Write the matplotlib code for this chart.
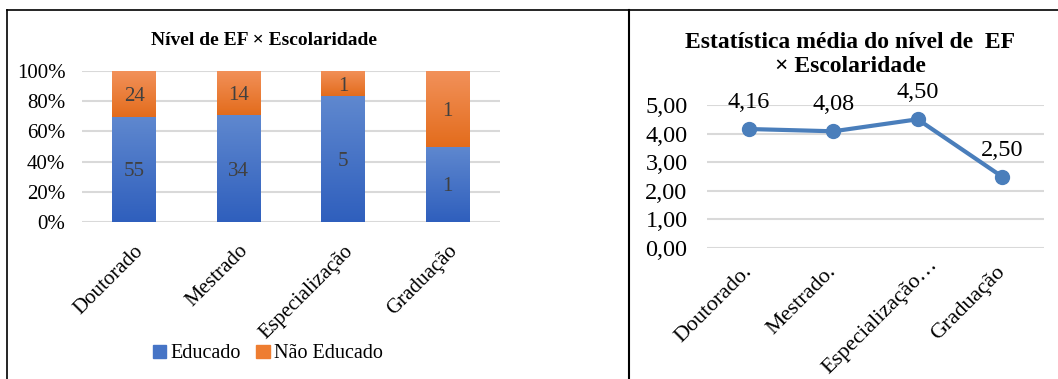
import numpy as np
import matplotlib.pyplot as plt
import matplotlib.transforms as mtransforms
from matplotlib.lines import Line2D
from matplotlib.patches import Patch
from matplotlib.colors import LinearSegmentedColormap

plt.rcParams['font.family'] = ['Liberation Serif', 'DejaVu Serif']

# dados
niveis = ['Doutorado', 'Mestrado', 'Especialização', 'Graduação']
educado = [55, 34, 5, 1]
nao_educado = [24, 14, 1, 1]

niveis_media = ['Doutorado.', 'Mestrado.', 'Especialização…', 'Graduação']
media = [4.16, 4.08, 4.50, 2.50]

azul = '#4674c6'
laranja = '#ee7d31'
linha_azul = '#4a7ebb'
grade = '#d9d9d9'
cm_azul = LinearSegmentedColormap.from_list('az', ['#2f5fbd', '#5f88cf'])
cm_lar = LinearSegmentedColormap.from_list('la', ['#e36c1c', '#f2915a'])

fig = plt.figure(figsize=(10.58, 3.79), dpi=100)

# painel esquerdo: barras empilhadas 100%
ax1 = fig.add_axes([0.0775, 0.4142, 0.3951, 0.3985])
tot = np.array(educado) + np.array(nao_educado)
p_ed = np.array(educado) / tot * 100
p_ne = np.array(nao_educado) / tot * 100
x = np.arange(len(niveis))
b1 = ax1.bar(x, p_ed, width=0.42, color=azul, zorder=3)
b2 = ax1.bar(x, p_ne, width=0.42, bottom=p_ed, color=laranja, zorder=3)
# preenchimento em degradê (estilo Excel)
grad = np.linspace(0, 1, 256).reshape(-1, 1)
for barras, cm in [(b1, cm_azul), (b2, cm_lar)]:
    for r in barras:
        x0, y0, w, h = r.get_x(), r.get_y(), r.get_width(), r.get_height()
        im = ax1.imshow(grad, cmap=cm, origin='lower', aspect='auto',
                        extent=[x0, x0 + w, y0, y0 + h], zorder=3.5)
        im.set_clip_path(r)
for i in range(len(niveis)):
    ax1.text(x[i], p_ed[i] / 2, str(educado[i]), ha='center', va='center_baseline',
             fontsize=15, color='#404040', zorder=4)
    ax1.text(x[i], p_ed[i] + p_ne[i] / 2, str(nao_educado[i]), ha='center',
             va='center_baseline', fontsize=15, color='#404040', zorder=4)
ax1.set_xlim(-0.5, 3.5)
ax1.set_ylim(0, 100)
ax1.set_yticks(np.arange(0, 101, 20))
ax1.set_yticklabels([f'{v}%' for v in range(0, 101, 20)], fontsize=15)
ax1.set_xticks(x)
ax1.set_xticklabels(niveis, rotation=45, ha='right', rotation_mode='anchor', fontsize=15)
ax1.yaxis.grid(True, color=grade, linewidth=1.5, zorder=0)
ax1.tick_params(axis='y', length=0, pad=12)
ax1.tick_params(axis='x', length=0, pad=14)
for s in ax1.spines.values():
    s.set_visible(False)
fig.text(0.2495, 0.892, 'Nível de EF × Escolaridade', ha='center', va='center',
         fontsize=14, fontweight='bold')
fig.legend(handles=[Patch(color=azul, label='Educado'), Patch(color=laranja, label='Não Educado')],
           loc='center', bbox_to_anchor=(0.253, 0.066), ncol=2, frameon=False,
           fontsize=14.5, handlelength=0.65, handleheight=0.65, handletextpad=0.2, columnspacing=0.8)

# painel direito: linha de médias
ax2 = fig.add_axes([0.6682, 0.3456, 0.3186, 0.3774])
x2 = np.arange(len(niveis_media))
ax2.plot(x2, media, color=linha_azul, linewidth=3, marker='o', markersize=10, zorder=3)
for i in range(len(media)):
    ax2.annotate(f'{media[i]:.2f}'.replace('.', ','), (x2[i], media[i]),
                 xytext=(0, 19), textcoords='offset points', ha='center', va='center',
                 fontsize=17.5, annotation_clip=False)
ax2.set_xlim(-0.5, 3.5)
ax2.set_ylim(0, 5)
ax2.set_yticks(np.arange(0, 6, 1))
ax2.set_yticklabels([f'{v},00' for v in range(6)], fontsize=17.5)
ax2.set_xticks(x2)
ax2.set_xticklabels(niveis_media, rotation=45, ha='right', va='center',
                    rotation_mode='anchor', fontsize=16)
ax2.yaxis.grid(True, color=grade, linewidth=1.5, zorder=0)
ax2.tick_params(axis='y', length=0, pad=14)
ax2.tick_params(axis='x', length=0, pad=15)
for s in ax2.spines.values():
    s.set_visible(False)
# rótulo truncado fica deslocado para a direita, como no Excel
lab = ax2.get_xticklabels()[2]
lab.set_transform(lab.get_transform() +
                  mtransforms.ScaledTranslation(0.17, 0.07, fig.dpi_scale_trans))
fig.text(0.8034, 0.857, 'Estatística média do nível de  EF\n× Escolaridade', ha='center',
         va='center', fontsize=17, fontweight='bold', linespacing=1.2)

# molduras
fig.add_artist(Line2D([0.0066, 0.0066], [0, 0.974], color='black', linewidth=1.2))
fig.add_artist(Line2D([0.0066, 1], [0.974, 0.974], color='black', linewidth=1.2))
fig.add_artist(Line2D([0.5945, 0.5945], [0, 0.974], color='black', linewidth=1.5))

fig.savefig('out.png', dpi=100)
